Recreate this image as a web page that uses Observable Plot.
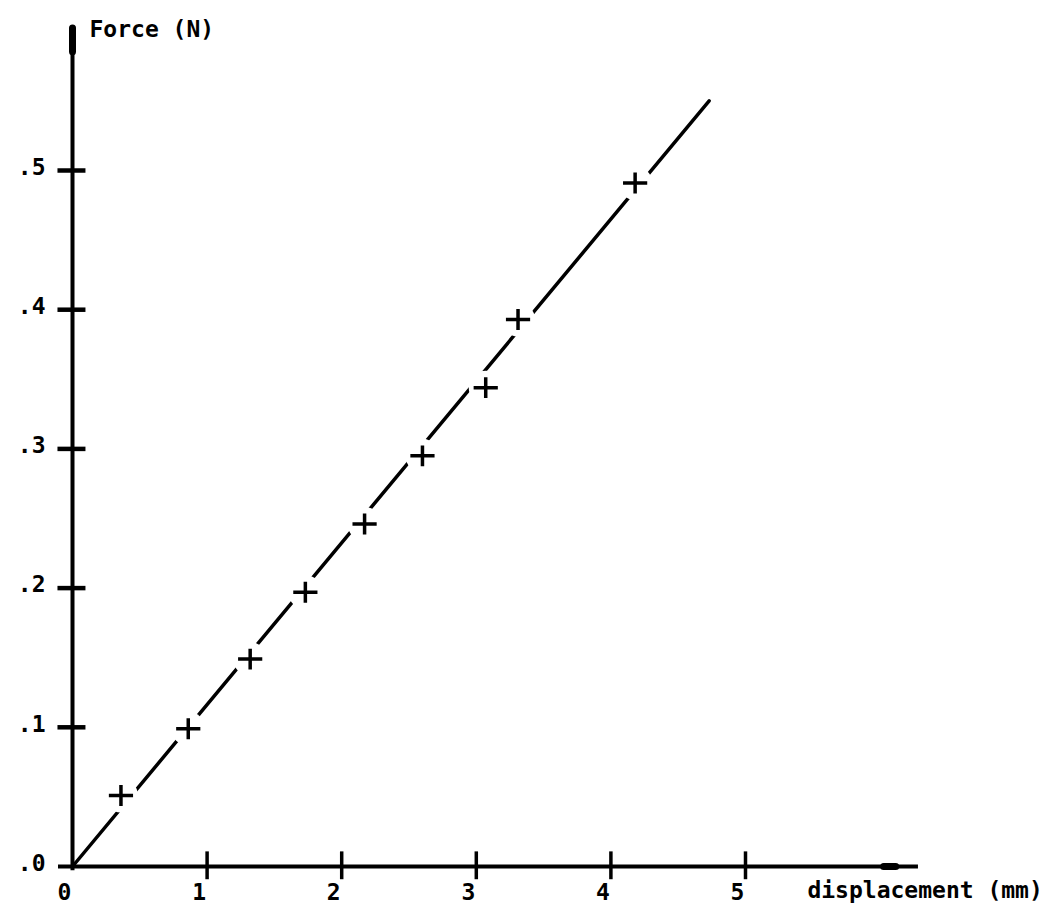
<!DOCTYPE html>
<html>
<head>
<meta charset="utf-8">
<script src="https://cdn.jsdelivr.net/npm/d3@7"></script>
<script src="https://cdn.jsdelivr.net/npm/@observablehq/plot@0.6"></script>
<style>
  html, body { margin: 0; padding: 0; background: #fff; }
  #chart svg { display: block; }
</style>
</head>
<body>
<div id="chart"></div>
<script>
// Measured data points (displacement in mm, force in N)
const displacement = [0.36, 0.86, 1.32, 1.73, 2.17, 2.60, 3.07, 3.31, 4.18];
const force        = [0.051, 0.099, 0.149, 0.197, 0.246, 0.295, 0.344, 0.393, 0.491];

// Fitted straight line (end points)
const fitX = [0, 4.73];
const fitY = [0, 0.550];

// Axis ticks and labels
const xTicks = [1, 2, 3, 4, 5];
const xTickLabels = ["0", "1", "2", "3", "4", "5"];
const xLabelValues = [0, 1, 2, 3, 4, 5];
const yTicks = [0.1, 0.2, 0.3, 0.4, 0.5];
const yTickLabels = [".0", ".1", ".2", ".3", ".4", ".5"];
const yLabelValues = [0, 0.1, 0.2, 0.3, 0.4, 0.5];

const xTitle = "displacement (mm)";
const yTitle = "Force (N)";

const points = displacement.map((d, i) => ({x: d, y: force[i]}));
const fit = fitX.map((d, i) => ({x: d, y: fitY[i]}));

// cross symbol: horizontal arm slightly wider than vertical arm
const cross = {
  draw(context, size) {
    const r = Math.sqrt(size / Math.PI);
    context.moveTo(-r * 1.1, 0);
    context.lineTo(r * 1.1, 0);
    context.moveTo(0, -r * 0.95);
    context.lineTo(0, r * 0.95);
  }
};

const font = "DejaVu Sans Mono";
const W = 1059, H = 910;

const chart = Plot.plot({
  width: W,
  height: H,
  marginLeft: 72,
  marginRight: 44.8,
  marginTop: 30.8,
  marginBottom: 44,
  x: {domain: [0, 7], axis: null},
  y: {domain: [0, 0.6], axis: null},
  style: {background: "#fff", fontFamily: font},
  marks: [
    // x axis line
    Plot.ruleY([0], {x1: -0.104, x2: 6.285, stroke: "#000", strokeWidth: 4}),
    // x axis arrow head
    Plot.ruleY([0], {x1: 6.03, x2: 6.12, stroke: "#000", strokeWidth: 7, strokeLinecap: "round"}),
    // y axis line
    Plot.ruleX([0], {y1: -0.003, y2: 0.604, stroke: "#000", strokeWidth: 4}),
    // y axis arrow head
    Plot.ruleX([0], {y1: 0.585, y2: 0.602, stroke: "#000", strokeWidth: 7, strokeLinecap: "round"}),
    // y ticks (horizontal bars across the axis)
    Plot.ruleY(yTicks, {x1: -0.108, x2: 0.1, stroke: "#000", strokeWidth: 4.5}),
    // x ticks
    Plot.ruleX(xTicks, {y1: -0.0095, y2: 0.0105, stroke: "#000", strokeWidth: 3.5}),
    // fitted line
    Plot.line(fit, {x: "x", y: "y", stroke: "#000", strokeWidth: 3.5}),
    // gaps in the line around the measured points
    Plot.dot(points, {x: "x", y: "y", r: 17, fill: "#fff", stroke: null}),
    // measured points as crosses
    Plot.dot(points, {x: "x", y: "y", r: 11, symbol: cross, fill: "none", stroke: "#000", strokeWidth: 3.5}),
    // x tick labels
    Plot.text(xLabelValues, {x: d => d, y: 0, text: (d, i) => xTickLabels[i], dx: -8, dy: 26,
      fontSize: 23, fontWeight: "bold", fontFamily: font, fill: "#000"}),
    // y tick labels
    Plot.text(yLabelValues, {x: 0, y: d => d, text: (d, i) => yTickLabels[i], dx: -27, dy: -3,
      textAnchor: "end", fontSize: 23, fontWeight: "bold", fontFamily: font, fill: "#000"}),
    // axis titles
    Plot.text([yTitle], {x: 0, y: 0.6, text: d => d, dx: 17, dy: -2, textAnchor: "start",
      fontSize: 23, fontWeight: "bold", fontFamily: font, fill: "#000"}),
    Plot.text([xTitle], {x: 5.46, y: 0, text: d => d, dy: 24, textAnchor: "start",
      fontSize: 23, fontWeight: "bold", fontFamily: font, fill: "#000"})
  ]
});

document.getElementById("chart").appendChild(chart);
</script>
</body>
</html>
